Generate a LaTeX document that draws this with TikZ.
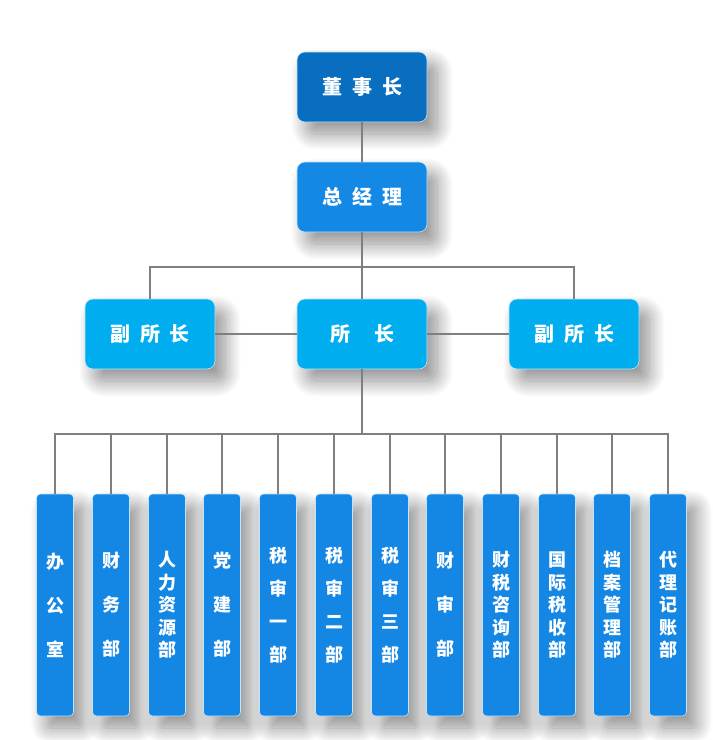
\documentclass[tikz,border=0pt]{standalone}
\usepackage{fontspec}
\newfontfamily\cjk{Noto Sans CJK SC}[BoldFont={Noto Sans CJK SC Black}]
\usetikzlibrary{shadows.blur}

\definecolor{boardblue}{HTML}{0A6EC0}
\definecolor{gmblue}{HTML}{1488E5}
\definecolor{headcyan}{HTML}{00AEEF}
\definecolor{deptblue}{HTML}{1486E4}
\definecolor{edgeblue}{HTML}{BFE3F8}
\definecolor{linkgray}{HTML}{7F7F7F}

\newcommand{\gapw}{\hspace{10pt}}

\tikzset{
  box/.style={rectangle, rounded corners=8pt, draw=edgeblue, line width=0.6pt,
    minimum width=130pt, minimum height=70pt, inner sep=0pt, text=white,
    font=\cjk\bfseries\fontsize{20}{22}\selectfont,
    blur shadow={shadow xshift=10pt, shadow yshift=-12pt, shadow blur radius=16pt,
      shadow blur steps=24, shadow opacity=45}},
  dept/.style={box, rounded corners=4pt, minimum width=37pt, minimum height=222pt,
    align=center, fill=deptblue, font=\cjk\bfseries\fontsize{18}{#1}\selectfont},
  link/.style={draw=linkgray, line width=1.6pt},
}

\begin{document}
\begin{tikzpicture}[x=1pt, y=-1pt]
    \useasboundingbox (0,0) rectangle (713,740);
    % top
    \node[box, fill=boardblue] (dsz) at (362,87) {董\gapw 事\gapw 长};
    \node[box, fill=gmblue] (zjl) at (362,197) {总\gapw 经\gapw 理};
    \node[box, fill=headcyan] (fsz1) at (150,334) {副\gapw 所\gapw 长};
    \node[box, fill=headcyan] (sz) at (362,334) {所\hspace{24pt}长};
    \node[box, fill=headcyan] (fsz2) at (574,334) {副\gapw 所\gapw 长};
    % departments
    \node[dept=44] (d1) at (55,605) {办\\公\\室};
    \node[dept=44] (d2) at (111,605) {财\\务\\部};
    \node[dept=22.5] (d3) at (167,605) {人\\力\\资\\源\\部};
    \node[dept=44] (d4) at (222,605) {党\\建\\部};
    \node[dept=33] (d5) at (278,605) {税\\审\\一\\部};
    \node[dept=33] (d6) at (334,605) {税\\审\\二\\部};
    \node[dept=33] (d7) at (390,605) {税\\审\\三\\部};
    \node[dept=44] (d8) at (445,605) {财\\审\\部};
    \node[dept=22.5] (d9) at (501,605) {财\\税\\咨\\询\\部};
    \node[dept=22.5] (d10) at (557,605) {国\\际\\税\\收\\部};
    \node[dept=22.5] (d11) at (612,605) {档\\案\\管\\理\\部};
    \node[dept=22.5] (d12) at (668,605) {代\\理\\记\\账\\部};
    \coordinate (bar1) at (362,267);
    \coordinate (bar2) at (362,434);
    % links
    \path[link] (dsz) -- (zjl);
    \path[link] (zjl) -- (sz);
    \path[link] (fsz1.north) |- (bar1) -| (fsz2.north);
    \path[link] (fsz1) -- (sz);
    \path[link] (sz) -- (fsz2);
    \path[link] (sz) -- (bar2);
    \path[link] (d1.north) |- (bar2) -| (d12.north);
    \path[link] (d2.north) -- (d2.north |- bar2);
    \path[link] (d3.north) -- (d3.north |- bar2);
    \path[link] (d4.north) -- (d4.north |- bar2);
    \path[link] (d5.north) -- (d5.north |- bar2);
    \path[link] (d6.north) -- (d6.north |- bar2);
    \path[link] (d7.north) -- (d7.north |- bar2);
    \path[link] (d8.north) -- (d8.north |- bar2);
    \path[link] (d9.north) -- (d9.north |- bar2);
    \path[link] (d10.north) -- (d10.north |- bar2);
    \path[link] (d11.north) -- (d11.north |- bar2);
\end{tikzpicture}
\end{document}
